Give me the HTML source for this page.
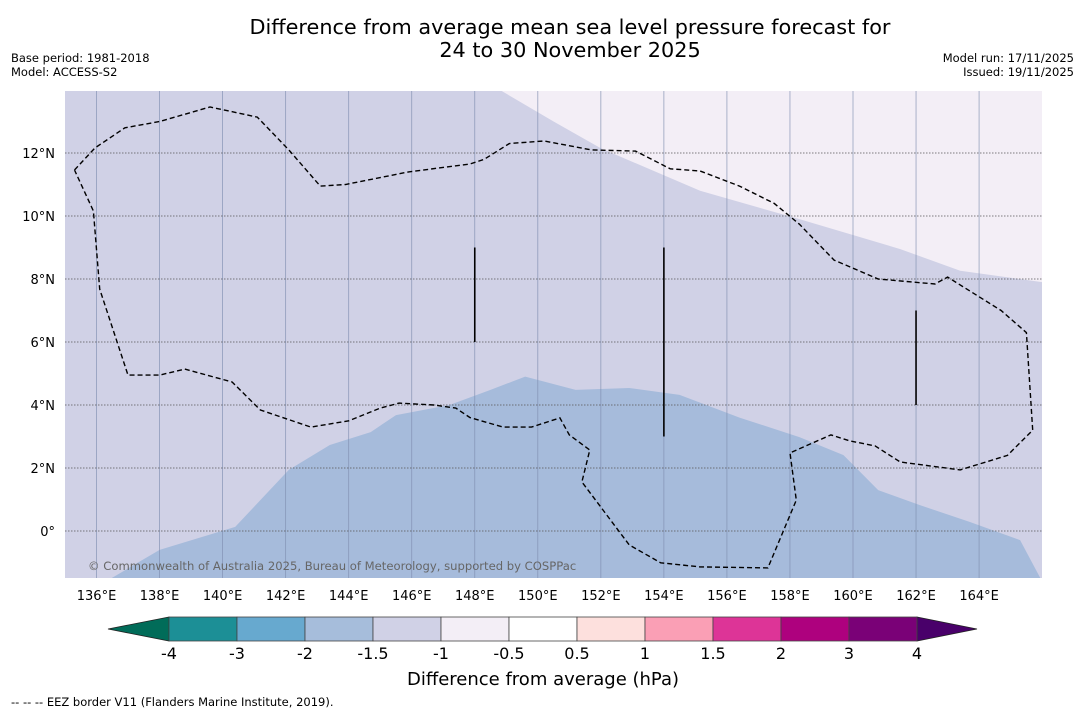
<!DOCTYPE html>
<html><head><meta charset="utf-8"><style>
body{margin:0;background:#fff;font-family:"Liberation Sans","DejaVu Sans",sans-serif}
svg{display:block}
</style></head><body>
<svg width="1085" height="713" viewBox="0 0 1085 713" xmlns="http://www.w3.org/2000/svg">
<text x="570" y="34" font-size="20.8" text-anchor="middle" font-family="DejaVu Sans,sans-serif">Difference from average mean sea level pressure forecast for</text>
<text x="570" y="57" font-size="20.8" text-anchor="middle" font-family="DejaVu Sans,sans-serif">24 to 30 November 2025</text>
<text x="11" y="62" font-size="11.5" font-family="DejaVu Sans,sans-serif">Base period: 1981-2018</text>
<text x="11" y="76" font-size="11.5" font-family="DejaVu Sans,sans-serif">Model: ACCESS-S2</text>
<text x="1074" y="62" font-size="11.5" text-anchor="end" font-family="DejaVu Sans,sans-serif">Model run: 17/11/2025</text>
<text x="1074" y="76" font-size="11.5" text-anchor="end" font-family="DejaVu Sans,sans-serif">Issued: 19/11/2025</text>
<defs><clipPath id="mc"><rect x="65" y="91" width="977" height="487"/></clipPath></defs>
<g id="map" clip-path="url(#mc)">
<rect x="65" y="91" width="977" height="487" fill="#d0d1e6"/>
</g>
<g id="xticks"></g>
<g id="cbar"></g>
<text x="543" y="685" font-size="18" text-anchor="middle" font-family="DejaVu Sans,sans-serif">Difference from average (hPa)</text>
<text x="11" y="706" font-size="11.5" font-family="DejaVu Sans,sans-serif">--  --  -- EEZ border V11 (Flanders Marine Institute, 2019).</text>
</svg>
<script>
const lonTicks=[136,138,140,142,144,146,148,150,152,154,156,158,160,162,164];
const latTicks=[0,2,4,6,8,10,12];
const latLabels=["0°","2°N","4°N","6°N","8°N","10°N","12°N"];
const highRegion=[[148.2,14.3],[148.8,14.0],[150.5,13.0],[152.0,12.15],[155.15,10.8],[158.3,9.9],[161.5,8.95],[163.4,8.26],[166,7.9],[167,7.9],[167,14.5],[148.2,14.5]];
const lowRegion=[[136.3,-1.6],[138.0,-0.6],[140.4,0.13],[142.1,1.94],[143.4,2.73],[144.7,3.14],[145.5,3.68],[147.2,4.0],[148.5,4.48],[149.6,4.9],[151.2,4.48],[152.9,4.54],[154.5,4.32],[156.4,3.6],[158.3,2.98],[159.7,2.41],[160.8,1.3],[162.1,0.83],[163.7,0.29],[165.3,-0.29],[166,-1.6]];
const eez=[[135.3,11.46],[135.95,12.16],[136.9,12.8],[138.0,13.0],[139.6,13.46],[141.1,13.14],[142.1,12.1],[143.1,10.95],[143.9,11.0],[145.9,11.4],[147.85,11.65],[148.3,11.8],[149.1,12.3],[150.2,12.38],[151.7,12.1],[153.1,12.06],[154.2,11.5],[155.15,11.43],[156.4,10.95],[157.5,10.4],[158.3,9.74],[159.4,8.6],[160.8,8.0],[162.6,7.84],[163.0,8.06],[164.7,7.0],[165.5,6.3],[165.7,3.2],[164.9,2.4],[163.4,1.94],[161.5,2.19],[160.7,2.7],[159.9,2.86],[159.3,3.05],[158.0,2.48],[158.2,0.98],[157.3,-1.17],[155.15,-1.14],[153.9,-1.01],[152.9,-0.44],[151.4,1.56],[151.65,2.57],[151.0,3.05],[150.7,3.59],[149.8,3.3],[148.9,3.3],[147.85,3.6],[147.4,3.9],[146.7,4.0],[145.6,4.06],[145.0,3.9],[144.0,3.5],[142.8,3.3],[141.2,3.84],[140.3,4.73],[138.8,5.14],[138.0,4.95],[137.0,4.95],[136.1,7.68],[135.9,10.16],[135.3,11.46]];
const segLon=[148,154,162];
const segLat0=[6,3,4];
const segLat1=[9,9,7];
const cbLevels=["-4","-3","-2","-1.5","-1","-0.5","0.5","1","1.5","2","3","4"];
const cbColors=["#1c8f96","#67a9cf","#a6bddb","#d0d1e6","#f3eef6","#ffffff","#fde0dd","#fa9fb5","#dd3497","#ae017e","#7a0177"];
const NS="http://www.w3.org/2000/svg";
const X=lon=>65+(lon-135)*31.52, Y=lat=>531-lat*31.5;
function mk(t,a,p){const e=document.createElementNS(NS,t);for(const k in a)e.setAttribute(k,a[k]);p.appendChild(e);return e;}
const map=document.getElementById('map');
const pts=a=>a.map(p=>X(p[0]).toFixed(1)+','+Y(p[1]).toFixed(1)).join(' ');
let el=mk('polygon',{points:pts(highRegion),fill:'#f3eef6'},map);


el=mk('polygon',{points:pts(lowRegion),fill:'#a6bbdb'},map);


lonTicks.forEach(l=>{const g=mk('line',{x1:X(l),x2:X(l),y1:91,y2:578,stroke:'#7f8fb0','stroke-width':0.8,'stroke-opacity':0.8},map);

});
latTicks.forEach(l=>{const g=mk('line',{x1:65,x2:1042,y1:Y(l),y2:Y(l),stroke:'#555','stroke-width':0.8,'stroke-dasharray':'1.5,1.5'},map);

});
el=mk('polyline',{points:pts(eez),fill:'none',stroke:'#000','stroke-width':1.4,'stroke-dasharray':'5,3'},map);


segLon.forEach((l,i)=>{const s=mk('line',{x1:X(l),x2:X(l),y1:Y(segLat0[i]),y2:Y(segLat1[i]),stroke:'#000','stroke-width':1.6},map);

});
const cr=mk('text',{x:88,y:570,'font-size':11.6,fill:'#666','font-family':'DejaVu Sans,sans-serif'},map);
cr.textContent='© Commonwealth of Australia 2025, Bureau of Meteorology, supported by COSPPac';


const xt=document.getElementById('xticks');
lonTicks.forEach(l=>{const t=mk('text',{x:X(l),y:600,'font-size':13,'text-anchor':'middle','font-family':'DejaVu Sans,sans-serif'},xt);t.textContent=l+'°E';

});
latTicks.forEach((l,i)=>{const t=mk('text',{x:55,y:Y(l)+5,'font-size':13,'text-anchor':'end','font-family':'DejaVu Sans,sans-serif'},xt);t.textContent=latLabels[i];

});
const cb=document.getElementById('cbar');
const cbX0=169,cbW=68,cbTop=617,cbBot=641;
el=mk('polygon',{points:`${cbX0},${cbTop} 108,629 ${cbX0},${cbBot}`,fill:'#016c59',stroke:'#222','stroke-width':0.8},cb);


const cbXe=cbX0+cbW*cbColors.length;
el=mk('polygon',{points:`${cbXe},${cbTop} 977,629 ${cbXe},${cbBot}`,fill:'#49006a',stroke:'#222','stroke-width':0.8},cb);


cbColors.forEach((c,i)=>{const r=mk('rect',{x:cbX0+i*cbW,y:cbTop,width:cbW,height:cbBot-cbTop,fill:c,stroke:'#444','stroke-width':0.8},cb);

});
cbLevels.forEach((v,i)=>{const t=mk('text',{x:cbX0+i*cbW,y:659,'font-size':16,'text-anchor':'middle','font-family':'DejaVu Sans,sans-serif'},cb);t.textContent=v;

});
</script>
</body></html>
